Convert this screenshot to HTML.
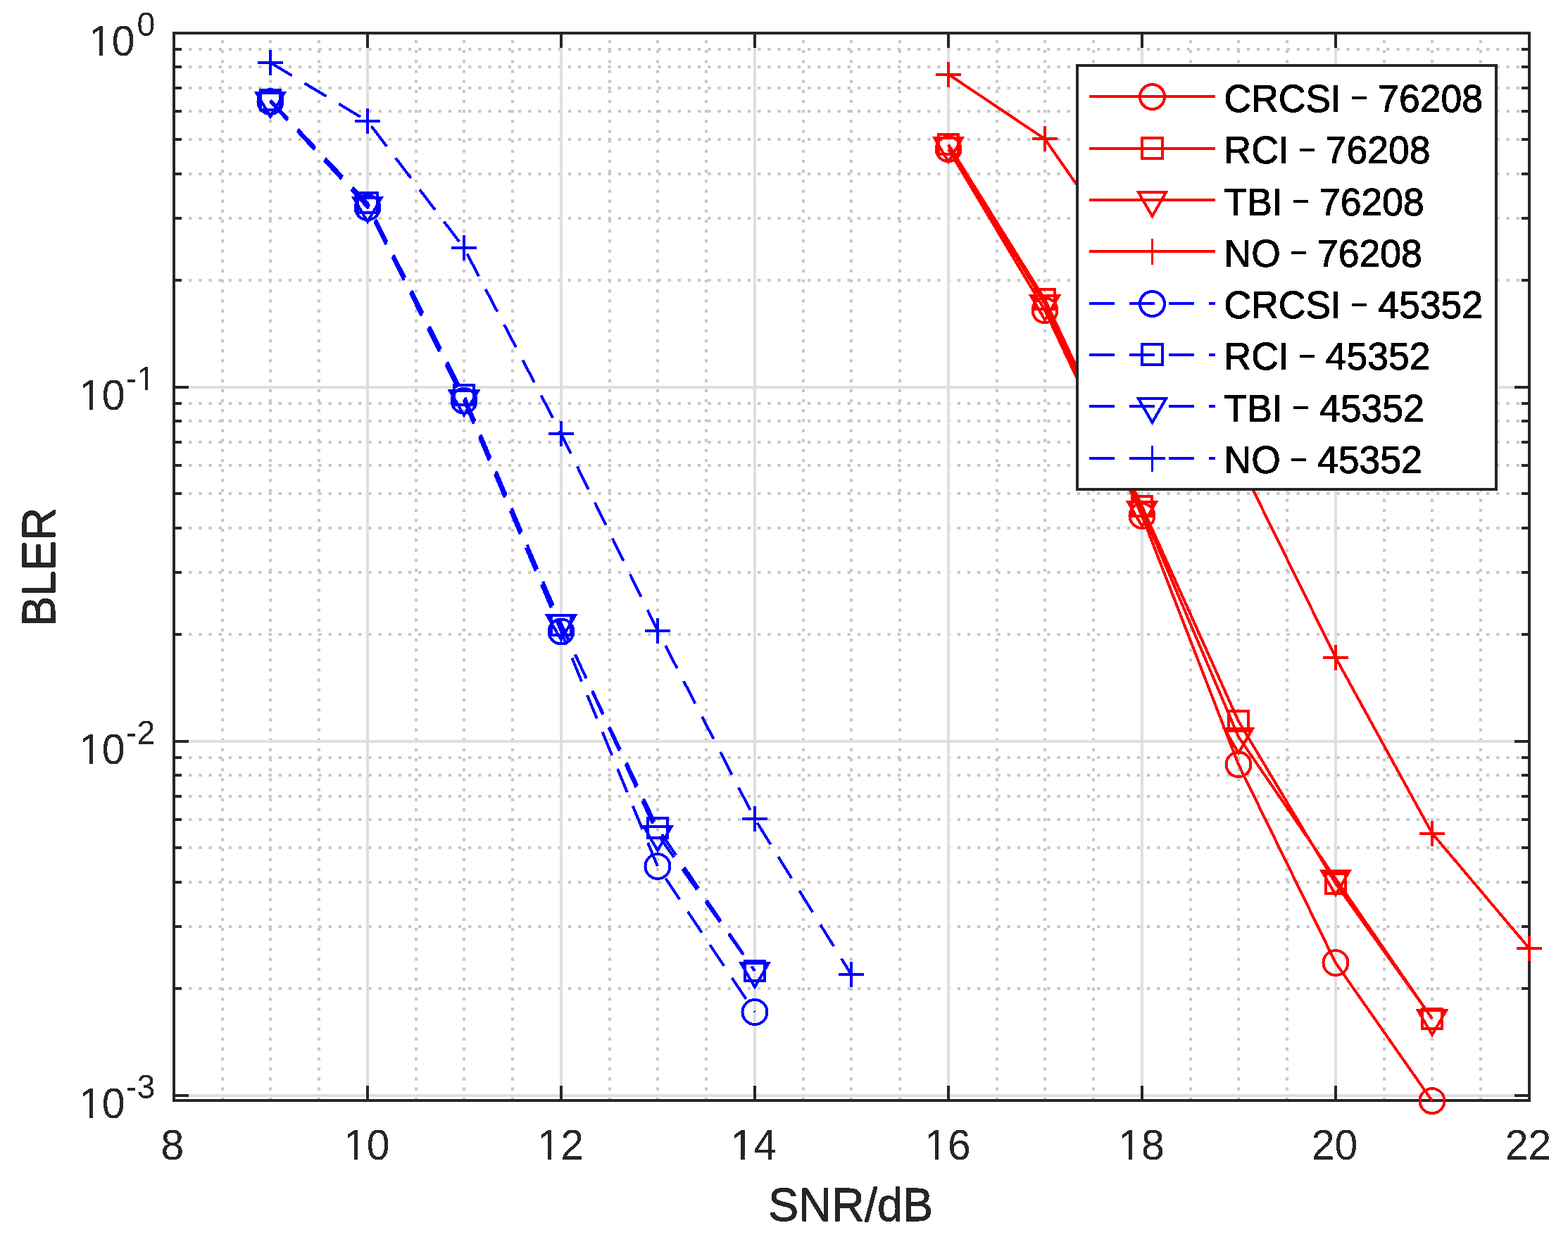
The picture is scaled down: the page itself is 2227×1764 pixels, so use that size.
<!DOCTYPE html><html><head><meta charset="utf-8"><title>BLER vs SNR</title>
<style>html,body{margin:0;padding:0;background:#fff;overflow:hidden}svg{display:block}text{font-family:"Liberation Sans",Arial,Helvetica,sans-serif;font-kerning:none}</style></head><body>
<svg width="2227" height="1764" viewBox="0 0 2227 1764">
<rect x="0" y="0" width="2227" height="1764" fill="#ffffff"/>
<defs><filter id="crisp" x="-5%" y="-5%" width="110%" height="110%"><feComponentTransfer><feFuncA type="discrete" tableValues="0 1"/></feComponentTransfer></filter></defs>
<path d="M316 1563.0V47.0M384 1563.0V47.0M453 1563.0V47.0M591 1563.0V47.0M659 1563.0V47.0M728 1563.0V47.0M866 1563.0V47.0M934 1563.0V47.0M1003 1563.0V47.0M1141 1563.0V47.0M1209 1563.0V47.0M1278 1563.0V47.0M1416 1563.0V47.0M1484 1563.0V47.0M1553 1563.0V47.0M1691 1563.0V47.0M1759 1563.0V47.0M1828 1563.0V47.0M1966 1563.0V47.0M2034 1563.0V47.0M2103 1563.0V47.0" stroke="#c6c6c6" stroke-width="4" stroke-dasharray="4.3 9.868" fill="none"/>
<path d="M2172.0 1404H247.0M2172.0 1316H247.0M2172.0 1253H247.0M2172.0 1204H247.0M2172.0 1164H247.0M2172.0 1131H247.0M2172.0 1101H247.0M2172.0 1076H247.0M2172.0 901H247.0M2172.0 813H247.0M2172.0 750H247.0M2172.0 701H247.0M2172.0 661H247.0M2172.0 628H247.0M2172.0 598H247.0M2172.0 573H247.0M2172.0 398H247.0M2172.0 310H247.0M2172.0 247H247.0M2172.0 198H247.0M2172.0 158H247.0M2172.0 125H247.0M2172.0 95H247.0M2172.0 70H247.0" stroke="#c6c6c6" stroke-width="4" stroke-dasharray="4.3 9.876" fill="none"/>
<path d="M522 1563.0V47.0M797 1563.0V47.0M1072 1563.0V47.0M1347 1563.0V47.0M1622 1563.0V47.0M1897 1563.0V47.0M247.0 550H2172.0M247.0 1053H2172.0M247.0 1556H2172.0" stroke="#dfdfdf" stroke-width="4" fill="none"/>
<path d="M247.00 1563.0V1542.0M247.00 47.0V68.0M522.00 1563.0V1542.0M522.00 47.0V68.0M797.00 1563.0V1542.0M797.00 47.0V68.0M1072.00 1563.0V1542.0M1072.00 47.0V68.0M1347.00 1563.0V1542.0M1347.00 47.0V68.0M1622.00 1563.0V1542.0M1622.00 47.0V68.0M1897.00 1563.0V1542.0M1897.00 47.0V68.0M2172.00 1563.0V1542.0M2172.00 47.0V68.0M247.0 47H268.0M2172.0 47H2151.0M247.0 550H268.0M2172.0 550H2151.0M247.0 1053H268.0M2172.0 1053H2151.0M247.0 1556H268.0M2172.0 1556H2151.0M247.0 1404H258.0M2172.0 1404H2161.0M247.0 1316H258.0M2172.0 1316H2161.0M247.0 1253H258.0M2172.0 1253H2161.0M247.0 1204H258.0M2172.0 1204H2161.0M247.0 1164H258.0M2172.0 1164H2161.0M247.0 1131H258.0M2172.0 1131H2161.0M247.0 1101H258.0M2172.0 1101H2161.0M247.0 1076H258.0M2172.0 1076H2161.0M247.0 901H258.0M2172.0 901H2161.0M247.0 813H258.0M2172.0 813H2161.0M247.0 750H258.0M2172.0 750H2161.0M247.0 701H258.0M2172.0 701H2161.0M247.0 661H258.0M2172.0 661H2161.0M247.0 628H258.0M2172.0 628H2161.0M247.0 598H258.0M2172.0 598H2161.0M247.0 573H258.0M2172.0 573H2161.0M247.0 398H258.0M2172.0 398H2161.0M247.0 310H258.0M2172.0 310H2161.0M247.0 247H258.0M2172.0 247H2161.0M247.0 198H258.0M2172.0 198H2161.0M247.0 158H258.0M2172.0 158H2161.0M247.0 125H258.0M2172.0 125H2161.0M247.0 95H258.0M2172.0 95H2161.0M247.0 70H258.0M2172.0 70H2161.0" stroke="#262626" stroke-width="4" fill="none"/>
<rect x="247.0" y="47.0" width="1925.0" height="1516.0" stroke="#262626" stroke-width="4" fill="none" stroke-linejoin="miter"/>
<path d="M1347.00 211.70L1484.00 440.80L1622.00 732.50L1759.00 1085.80L1897.00 1367.50L2034.00 1563.60" stroke="#ff0000" stroke-width="4" fill="none" stroke-linejoin="miter" shape-rendering="crispEdges"/>
<g stroke="#ff0000" stroke-width="4" fill="none" shape-rendering="crispEdges"><circle cx="1347.00" cy="211.70" r="17.5"/><circle cx="1484.00" cy="440.80" r="17.5"/><circle cx="1622.00" cy="732.50" r="17.5"/><circle cx="1759.00" cy="1085.80" r="17.5"/><circle cx="1897.00" cy="1367.50" r="17.5"/><circle cx="2034.00" cy="1563.60" r="17.5"/></g>
<path d="M1347.00 205.30L1484.00 425.30L1622.00 719.30L1759.00 1024.30L1897.00 1254.80L2034.00 1446.50" stroke="#ff0000" stroke-width="4" fill="none" stroke-linejoin="miter" shape-rendering="crispEdges"/>
<g stroke="#ff0000" stroke-width="4" fill="none" shape-rendering="crispEdges"><rect x="1333.00" y="191.30" width="28" height="28"/><rect x="1470.00" y="411.30" width="28" height="28"/><rect x="1608.00" y="705.30" width="28" height="28"/><rect x="1745.00" y="1010.30" width="28" height="28"/><rect x="1883.00" y="1240.80" width="28" height="28"/><rect x="2020.00" y="1432.50" width="28" height="28"/></g>
<path d="M1347.00 207.00L1484.00 431.50L1622.00 724.50L1759.00 1046.50L1897.00 1248.00L2034.00 1446.80" stroke="#ff0000" stroke-width="4" fill="none" stroke-linejoin="miter" shape-rendering="crispEdges"/>
<g stroke="#ff0000" stroke-width="4" fill="none" shape-rendering="crispEdges"><path d="M1327.08 195.50L1366.92 195.50L1347.00 230.00Z"/><path d="M1464.08 420.00L1503.92 420.00L1484.00 454.50Z"/><path d="M1602.08 713.00L1641.92 713.00L1622.00 747.50Z"/><path d="M1739.08 1035.00L1778.92 1035.00L1759.00 1069.50Z"/><path d="M1877.08 1236.50L1916.92 1236.50L1897.00 1271.00Z"/><path d="M2014.08 1435.30L2053.92 1435.30L2034.00 1469.80Z"/></g>
<path d="M1347.00 105.50L1484.00 197.40L1622.00 395.20L1759.00 654.00L1897.00 933.90L2034.00 1183.50L2172.00 1347.00" stroke="#ff0000" stroke-width="4" fill="none" stroke-linejoin="miter" shape-rendering="crispEdges"/>
<g stroke="#ff0000" stroke-width="4" fill="none" shape-rendering="crispEdges"><path d="M1329.00 105.50H1365.00M1347.00 87.50V123.50"/><path d="M1466.00 197.40H1502.00M1484.00 179.40V215.40"/><path d="M1604.00 395.20H1640.00M1622.00 377.20V413.20"/><path d="M1741.00 654.00H1777.00M1759.00 636.00V672.00"/><path d="M1879.00 933.90H1915.00M1897.00 915.90V951.90"/><path d="M2016.00 1183.50H2052.00M2034.00 1165.50V1201.50"/><path d="M2154.00 1347.00H2190.00M2172.00 1329.00V1365.00"/></g>
<path d="M384.00 144.50L522.00 294.70L659.00 569.30L797.00 897.00L934.00 1230.50L1072.00 1437.50" stroke="#0000ff" stroke-width="4" fill="none" stroke-linejoin="miter" shape-rendering="crispEdges" stroke-dasharray="36 20.7"/>
<g stroke="#0000ff" stroke-width="4" fill="none" shape-rendering="crispEdges"><circle cx="384.00" cy="144.50" r="17.5"/><circle cx="522.00" cy="294.70" r="17.5"/><circle cx="659.00" cy="569.30" r="17.5"/><circle cx="797.00" cy="897.00" r="17.5"/><circle cx="934.00" cy="1230.50" r="17.5"/><circle cx="1072.00" cy="1437.50" r="17.5"/></g>
<path d="M384.00 142.20L522.00 288.30L659.00 561.30L797.00 888.00L934.00 1176.10L1072.00 1379.00" stroke="#0000ff" stroke-width="4" fill="none" stroke-linejoin="miter" shape-rendering="crispEdges" stroke-dasharray="36 20.7"/>
<g stroke="#0000ff" stroke-width="4" fill="none" shape-rendering="crispEdges"><rect x="370.00" y="128.20" width="28" height="28"/><rect x="508.00" y="274.30" width="28" height="28"/><rect x="645.00" y="547.30" width="28" height="28"/><rect x="783.00" y="874.00" width="28" height="28"/><rect x="920.00" y="1162.10" width="28" height="28"/><rect x="1058.00" y="1365.00" width="28" height="28"/></g>
<path d="M384.00 143.00L522.00 292.00L659.00 566.80L797.00 885.70L934.00 1185.00L1072.00 1379.00" stroke="#0000ff" stroke-width="4" fill="none" stroke-linejoin="miter" shape-rendering="crispEdges" stroke-dasharray="36 20.7"/>
<g stroke="#0000ff" stroke-width="4" fill="none" shape-rendering="crispEdges"><path d="M364.08 131.50L403.92 131.50L384.00 166.00Z"/><path d="M502.08 280.50L541.92 280.50L522.00 315.00Z"/><path d="M639.08 555.30L678.92 555.30L659.00 589.80Z"/><path d="M777.08 874.20L816.92 874.20L797.00 908.70Z"/><path d="M914.08 1173.50L953.92 1173.50L934.00 1208.00Z"/><path d="M1052.08 1367.50L1091.92 1367.50L1072.00 1402.00Z"/></g>
<path d="M384.00 89.00L522.00 172.00L659.00 352.00L797.00 616.00L934.00 895.50L1072.00 1163.00L1209.00 1384.00" stroke="#0000ff" stroke-width="4" fill="none" stroke-linejoin="miter" shape-rendering="crispEdges" stroke-dasharray="36 20.7"/>
<g stroke="#0000ff" stroke-width="4" fill="none" shape-rendering="crispEdges"><path d="M366.00 89.00H402.00M384.00 71.00V107.00"/><path d="M504.00 172.00H540.00M522.00 154.00V190.00"/><path d="M641.00 352.00H677.00M659.00 334.00V370.00"/><path d="M779.00 616.00H815.00M797.00 598.00V634.00"/><path d="M916.00 895.50H952.00M934.00 877.50V913.50"/><path d="M1054.00 1163.00H1090.00M1072.00 1145.00V1181.00"/><path d="M1191.00 1384.00H1227.00M1209.00 1366.00V1402.00"/></g>
<rect x="1530" y="93" width="595" height="602" fill="#ffffff" stroke="#262626" stroke-width="4"/>
<path d="M1547 137.00H1726" stroke="#ff0000" stroke-width="4" fill="none" shape-rendering="crispEdges"/>
<g stroke="#ff0000" stroke-width="4" fill="none" shape-rendering="crispEdges"><circle cx="1636.5" cy="137.5" r="17.5"/></g>
<text transform="translate(1738.50 159.00) scale(1 1.05)" font-size="53.5" fill="#000" stroke="#000" stroke-width="1.0" filter="url(#crisp)">CRCSI</text>
<text transform="translate(1918.19 157.67) scale(1 1.3)" font-size="43.2" fill="#000" filter="url(#crisp)">−</text>
<text transform="translate(1957.18 159.00) scale(1 1.05)" font-size="53.5" fill="#000" stroke="#000" stroke-width="1.0" filter="url(#crisp)">76208</text>
<path d="M1547 211.00H1726" stroke="#ff0000" stroke-width="4" fill="none" shape-rendering="crispEdges"/>
<g stroke="#ff0000" stroke-width="4" fill="none" shape-rendering="crispEdges"><rect x="1622.0" y="196.0" width="29" height="29"/></g>
<text transform="translate(1738.50 232.29) scale(1 1.05)" font-size="53.5" fill="#000" stroke="#000" stroke-width="1.0" filter="url(#crisp)">RCI</text>
<text transform="translate(1843.87 231.67) scale(1 1.3)" font-size="43.2" fill="#000" filter="url(#crisp)">−</text>
<text transform="translate(1882.86 232.29) scale(1 1.05)" font-size="53.5" fill="#000" stroke="#000" stroke-width="1.0" filter="url(#crisp)">76208</text>
<path d="M1547 284.00H1726" stroke="#ff0000" stroke-width="4" fill="none" shape-rendering="crispEdges"/>
<g stroke="#ff0000" stroke-width="4" fill="none" shape-rendering="crispEdges"><path d="M1616.58 272.50L1656.42 272.50L1636.50 307.00Z"/></g>
<text transform="translate(1738.50 305.57) scale(1 1.05)" font-size="53.5" fill="#000" stroke="#000" stroke-width="1.0" filter="url(#crisp)">TBI</text>
<text transform="translate(1834.96 304.67) scale(1 1.3)" font-size="43.2" fill="#000" filter="url(#crisp)">−</text>
<text transform="translate(1873.96 305.57) scale(1 1.05)" font-size="53.5" fill="#000" stroke="#000" stroke-width="1.0" filter="url(#crisp)">76208</text>
<path d="M1547 357.00H1726" stroke="#ff0000" stroke-width="4" fill="none" shape-rendering="crispEdges"/>
<g stroke="#ff0000" stroke-width="4" fill="none" shape-rendering="crispEdges"><path d="M1618.0 357H1655.0"/><path d="M1636.5 339V376" stroke-width="3"/></g>
<text transform="translate(1738.50 378.86) scale(1 1.05)" font-size="53.5" fill="#000" stroke="#000" stroke-width="1.0" filter="url(#crisp)">NO</text>
<text transform="translate(1831.98 377.67) scale(1 1.3)" font-size="43.2" fill="#000" filter="url(#crisp)">−</text>
<text transform="translate(1870.98 378.86) scale(1 1.05)" font-size="53.5" fill="#000" stroke="#000" stroke-width="1.0" filter="url(#crisp)">76208</text>
<path d="M1547 431.00H1726" stroke="#0000ff" stroke-width="4" fill="none" shape-rendering="crispEdges" stroke-dasharray="36 20.7"/>
<g stroke="#0000ff" stroke-width="4" fill="none" shape-rendering="crispEdges"><circle cx="1636.5" cy="431.5" r="17.5"/></g>
<text transform="translate(1738.50 452.14) scale(1 1.05)" font-size="53.5" fill="#000" stroke="#000" stroke-width="1.0" filter="url(#crisp)">CRCSI</text>
<text transform="translate(1918.19 451.67) scale(1 1.3)" font-size="43.2" fill="#000" filter="url(#crisp)">−</text>
<text transform="translate(1957.18 452.14) scale(1 1.05)" font-size="53.5" fill="#000" stroke="#000" stroke-width="1.0" filter="url(#crisp)">45352</text>
<path d="M1547 504.00H1726" stroke="#0000ff" stroke-width="4" fill="none" shape-rendering="crispEdges" stroke-dasharray="36 20.7"/>
<g stroke="#0000ff" stroke-width="4" fill="none" shape-rendering="crispEdges"><rect x="1622.0" y="489.0" width="29" height="29"/></g>
<text transform="translate(1738.50 525.43) scale(1 1.05)" font-size="53.5" fill="#000" stroke="#000" stroke-width="1.0" filter="url(#crisp)">RCI</text>
<text transform="translate(1843.87 524.67) scale(1 1.3)" font-size="43.2" fill="#000" filter="url(#crisp)">−</text>
<text transform="translate(1882.86 525.43) scale(1 1.05)" font-size="53.5" fill="#000" stroke="#000" stroke-width="1.0" filter="url(#crisp)">45352</text>
<path d="M1547 577.00H1726" stroke="#0000ff" stroke-width="4" fill="none" shape-rendering="crispEdges" stroke-dasharray="36 20.7"/>
<g stroke="#0000ff" stroke-width="4" fill="none" shape-rendering="crispEdges"><path d="M1616.58 565.50L1656.42 565.50L1636.50 600.00Z"/></g>
<text transform="translate(1738.50 598.72) scale(1 1.05)" font-size="53.5" fill="#000" stroke="#000" stroke-width="1.0" filter="url(#crisp)">TBI</text>
<text transform="translate(1834.96 597.67) scale(1 1.3)" font-size="43.2" fill="#000" filter="url(#crisp)">−</text>
<text transform="translate(1873.96 598.72) scale(1 1.05)" font-size="53.5" fill="#000" stroke="#000" stroke-width="1.0" filter="url(#crisp)">45352</text>
<path d="M1547 651.00H1726" stroke="#0000ff" stroke-width="4" fill="none" shape-rendering="crispEdges" stroke-dasharray="36 20.7"/>
<g stroke="#0000ff" stroke-width="4" fill="none" shape-rendering="crispEdges"><path d="M1618.0 651H1655.0"/><path d="M1636.5 633V670" stroke-width="3"/></g>
<text transform="translate(1738.50 672.00) scale(1 1.05)" font-size="53.5" fill="#000" stroke="#000" stroke-width="1.0" filter="url(#crisp)">NO</text>
<text transform="translate(1831.98 671.67) scale(1 1.3)" font-size="43.2" fill="#000" filter="url(#crisp)">−</text>
<text transform="translate(1870.98 672.00) scale(1 1.05)" font-size="53.5" fill="#000" stroke="#000" stroke-width="1.0" filter="url(#crisp)">45352</text>
<defs><clipPath id="one_t" clipPathUnits="userSpaceOnUse"><rect x="-5000" y="-5000" width="10000" height="4994.79"/><rect x="14.84" y="-5000" width="5.21" height="10000"/><rect x="30.43" y="-5000" width="5000" height="10000"/><rect x="-5000" y="-5000" width="5003.99" height="10000"/></clipPath><clipPath id="one_s" clipPathUnits="userSpaceOnUse"><rect x="-5000" y="-5000" width="10000" height="4995.73"/><rect x="27.18" y="-5000" width="4.11" height="10000"/><rect x="39.58" y="-5000" width="5000" height="10000"/><rect x="-5000" y="-5000" width="5018.53" height="10000"/></clipPath></defs>
<text transform="translate(228.59 1647.00) scale(1 1.03)" font-size="59.0" fill="#262626" filter="url(#crisp)">8</text>
<g filter="url(#crisp)"><text transform="translate(488.00 1647.00) scale(1 1.03)" font-size="59.0" fill="#262626" clip-path="url(#one_t)">10</text></g>
<g filter="url(#crisp)"><text transform="translate(763.33 1647.00) scale(1 1.03)" font-size="59.0" fill="#262626" clip-path="url(#one_t)">12</text></g>
<g filter="url(#crisp)"><text transform="translate(1037.51 1647.00) scale(1 1.03)" font-size="59.0" fill="#262626" clip-path="url(#one_t)">14</text></g>
<g filter="url(#crisp)"><text transform="translate(1313.15 1647.00) scale(1 1.03)" font-size="59.0" fill="#262626" clip-path="url(#one_t)">16</text></g>
<g filter="url(#crisp)"><text transform="translate(1588.13 1647.00) scale(1 1.03)" font-size="59.0" fill="#262626" clip-path="url(#one_t)">18</text></g>
<text transform="translate(1862.76 1647.00) scale(1 1.03)" font-size="59.0" fill="#262626" filter="url(#crisp)">20</text>
<text transform="translate(2137.69 1647.00) scale(1 1.03)" font-size="59.0" fill="#262626" filter="url(#crisp)">22</text>
<g filter="url(#crisp)"><text transform="translate(125.90 79.30) scale(1 1.03)" font-size="59.0" fill="#262626" clip-path="url(#one_t)">10</text></g>
<text transform="translate(194.40 50.60) scale(1 1.04)" font-size="46.5" fill="#262626" filter="url(#crisp)">0</text>
<g filter="url(#crisp)"><text transform="translate(112.00 582.30) scale(1 1.03)" font-size="59.0" fill="#262626" clip-path="url(#one_t)">10</text></g>
<g filter="url(#crisp)"><text transform="translate(179.00 553.60) scale(1 1.04)" font-size="46.5" fill="#262626" clip-path="url(#one_s)">-1</text></g>
<g filter="url(#crisp)"><text transform="translate(112.00 1085.30) scale(1 1.03)" font-size="59.0" fill="#262626" clip-path="url(#one_t)">10</text></g>
<text transform="translate(179.00 1056.60) scale(1 1.04)" font-size="46.5" fill="#262626" filter="url(#crisp)">-2</text>
<g filter="url(#crisp)"><text transform="translate(112.00 1588.30) scale(1 1.03)" font-size="59.0" fill="#262626" clip-path="url(#one_t)">10</text></g>
<text transform="translate(179.00 1559.60) scale(1 1.04)" font-size="46.5" fill="#262626" filter="url(#crisp)">-3</text>
<text transform="translate(1091.00 1734.20) scale(1 1.03)" font-size="64.85" fill="#262626" stroke="#262626" stroke-width="0.9" filter="url(#crisp)">SNR/dB</text>
<text transform="translate(78.00 890.10) rotate(-90) scale(1 1.03)" font-size="64.85" fill="#262626" stroke="#262626" stroke-width="0.9" filter="url(#crisp)">BLER</text>
</svg></body></html>
